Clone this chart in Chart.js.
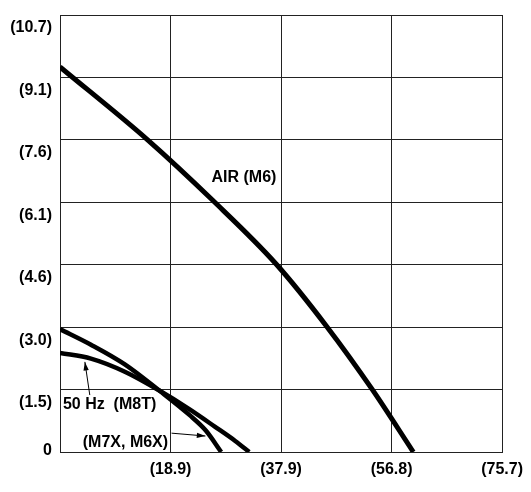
<!DOCTYPE html>
<html>
<head>
<meta charset="utf-8">
<script src="https://cdn.jsdelivr.net/npm/chart.js@4.4.0/dist/chart.umd.min.js"></script>
<style>
html, body { margin: 0; padding: 0; background: #fff; }
#pump-wrap { width: 531px; height: 492px; position: relative; }
</style>
</head>
<body>
<div id="pump-wrap"><canvas id="pumpChart"></canvas></div>
<script>
// flow (L/min) on x, head (m) on y -- metric values of a 5 gpm / 5 ft grid
const xTickValues = [0, 18.93, 37.85, 56.78, 75.7];
const xTickLabels = ['', '(18.9)', '(37.9)', '(56.8)', '(75.7)'];
const yTickValues = [0, 1.524, 3.048, 4.572, 6.096, 7.62, 9.144, 10.668];
const yTickLabels = ['0', '(1.5)', '(3.0)', '(4.6)', '(6.1)', '(7.6)', '(9.1)', '(10.7)'];

// AIR (M6)
const airFlow = [0, 15.0, 26.1, 37.0, 45.7, 53.4, 60.5];
const airHead = [9.40, 7.62, 6.15, 4.59, 3.06, 1.54, 0];

// M7X, M6X
const m7xFlow = [0, 5.3, 11.1, 17.0, 22.2, 25.0, 27.6];
const m7xHead = [3.00, 2.62, 2.14, 1.50, 0.90, 0.52, 0];

// 50 Hz (M8T)
const m8tFlow = [0, 5.3, 11.1, 17.0, 22.2, 26.5, 30.0, 32.4];
const m8tHead = [2.42, 2.28, 1.96, 1.50, 1.04, 0.62, 0.27, 0];

// curve labels and their pointer arrows (data units)
const noteTexts = ['AIR (M6)', '50 Hz  (M8T)', '(M7X, M6X)'];
const noteX = [31.5, 0.5, 3.9];
const noteY = [6.69, 1.15, 0.22];
const noteAlign = ['center', 'left', 'left'];
const arrowFromX = [5.1, 19.1];
const arrowFromY = [1.39, 0.46];
const arrowToX = [4.26, 24.9];
const arrowToY = [2.20, 0.39];

const FONT = "bold 16px 'Liberation Sans', Arial, sans-serif";

function toPoints(xs, ys) {
    return xs.map(function(x, i) { return { x: x, y: ys[i] }; });
}

function curve(xs, ys, width) {
    return {
        data: toPoints(xs, ys),
        showLine: true,
        borderColor: '#000',
        borderWidth: width,
        pointRadius: 0,
        fill: false,
        cubicInterpolationMode: 'monotone'
    };
}

const notesPlugin = {
    id: 'notes',
    afterDraw: function(chart) {
        const ctx = chart.ctx;
        const xs = chart.scales.x;
        const ys = chart.scales.y;
        ctx.save();
        ctx.fillStyle = '#000';
        ctx.strokeStyle = '#000';
        ctx.font = FONT;

        // y tick labels sit a little below their grid lines in the original
        ctx.textAlign = 'right';
        ctx.textBaseline = 'middle';
        yTickLabels.forEach(function(lab, i) {
            const off = i === 0 ? -1 : 13;
            ctx.fillText(lab, 52, ys.getPixelForValue(yTickValues[i]) + off);
        });

        noteTexts.forEach(function(t, i) {
            ctx.textAlign = noteAlign[i];
            ctx.fillText(t, xs.getPixelForValue(noteX[i]), ys.getPixelForValue(noteY[i]));
        });

        ctx.lineWidth = 1;
        arrowFromX.forEach(function(fx, i) {
            const x0 = xs.getPixelForValue(fx), y0 = ys.getPixelForValue(arrowFromY[i]);
            const x1 = xs.getPixelForValue(arrowToX[i]), y1 = ys.getPixelForValue(arrowToY[i]);
            const a = Math.atan2(y1 - y0, x1 - x0);
            ctx.beginPath();
            ctx.moveTo(x0, y0);
            ctx.lineTo(x1, y1);
            ctx.stroke();
            ctx.beginPath();
            ctx.moveTo(x1, y1);
            ctx.lineTo(x1 - 9 * Math.cos(a - 0.3), y1 - 9 * Math.sin(a - 0.3));
            ctx.lineTo(x1 - 9 * Math.cos(a + 0.3), y1 - 9 * Math.sin(a + 0.3));
            ctx.closePath();
            ctx.fill();
        });
        ctx.restore();
    }
};

new Chart(document.getElementById('pumpChart'), {
    type: 'scatter',
    data: {
        datasets: [
            curve(airFlow, airHead, 5),
            curve(m7xFlow, m7xHead, 4.5),
            curve(m8tFlow, m8tHead, 4.5)
        ]
    },
    options: {
        responsive: true,
        maintainAspectRatio: false,
        animation: false,
        layout: { padding: { top: 15, right: 27, left: 0, bottom: 0 } },
        plugins: {
            legend: { display: false },
            tooltip: { enabled: false }
        },
        scales: {
            x: {
                type: 'linear',
                min: 0,
                max: 75.7,
                afterBuildTicks: function(axis) {
                    axis.ticks = xTickValues.map(function(v) { return { value: v }; });
                },
                afterFit: function(axis) { axis.height = 40; },
                grid: { color: '#222', lineWidth: 1, drawTicks: false },
                border: { color: '#222', width: 1 },
                ticks: {
                    autoSkip: false,
                    maxRotation: 0,
                    padding: 8,
                    color: '#000',
                    font: { family: "'Liberation Sans', Arial, sans-serif", size: 16, weight: 'bold' },
                    callback: function(v, i) { return xTickLabels[i]; }
                }
            },
            y: {
                type: 'linear',
                min: 0,
                max: 10.668,
                afterBuildTicks: function(axis) {
                    axis.ticks = yTickValues.map(function(v) { return { value: v }; });
                },
                afterFit: function(axis) { axis.width = 60; },
                grid: { color: '#222', lineWidth: 1, drawTicks: false },
                border: { color: '#222', width: 1 },
                ticks: { display: false }
            }
        }
    },
    plugins: [notesPlugin]
});
</script>
</body>
</html>
